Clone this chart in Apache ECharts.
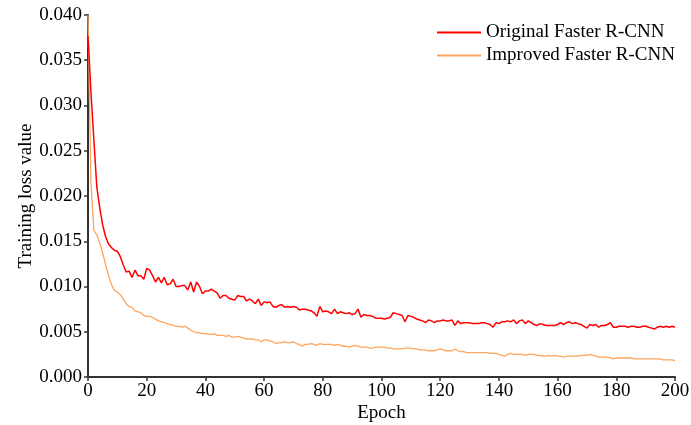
<!DOCTYPE html>
<html>
<head>
<meta charset="utf-8">
<script src="https://cdn.jsdelivr.net/npm/echarts@6/dist/echarts.min.js"></script>
<style>
  html, body { margin: 0; padding: 0; background: #fff; }
  #chart { width: 691px; height: 425px; }
</style>
</head>
<body>
<div id="chart"></div>
<script>
// loss per epoch, epoch 0..200
var original = [
  0.0377, 0.0315, 0.0262, 0.0210, 0.0187, 0.0168, 0.0155, 0.0147, 0.0143, 0.0140,
  0.0139, 0.0133, 0.0124, 0.0116, 0.0117, 0.0110, 0.0118, 0.0112, 0.0112, 0.0108,
  0.0120, 0.0118, 0.0112, 0.0105, 0.0110, 0.0104, 0.0110, 0.0102, 0.0103, 0.0108,
  0.0100, 0.0100, 0.0101, 0.0101, 0.0096, 0.0105, 0.0094, 0.0105, 0.0100, 0.0092,
  0.0095, 0.0095, 0.0097, 0.0095, 0.0093, 0.0087, 0.0090, 0.0090, 0.0087, 0.0086,
  0.0085, 0.0090, 0.0089, 0.0089, 0.0084, 0.0086, 0.0084, 0.0081, 0.0086, 0.0079,
  0.0083, 0.0082, 0.0083, 0.0078, 0.0077, 0.0079, 0.0080, 0.0077, 0.0078, 0.0077,
  0.0078, 0.0077, 0.0074, 0.0075, 0.0075, 0.0074, 0.0073, 0.0071, 0.0067, 0.0078,
  0.0072, 0.0073, 0.0072, 0.0070, 0.0075, 0.0070, 0.0072, 0.0071, 0.0070, 0.0071,
  0.0069, 0.0070, 0.0075, 0.0066, 0.0069, 0.0068, 0.0068, 0.0067, 0.0065, 0.0065,
  0.0065, 0.0064, 0.0065, 0.0066, 0.0071, 0.0070, 0.0069, 0.0068, 0.0061, 0.0068,
  0.0067, 0.0066, 0.0064, 0.0063, 0.0062, 0.0060, 0.0063, 0.0062, 0.0060, 0.0062,
  0.0062, 0.0063, 0.0062, 0.0062, 0.0063, 0.0057, 0.0062, 0.0059, 0.0060, 0.0060,
  0.0060, 0.0059, 0.0059, 0.0059, 0.0060, 0.0060, 0.0059, 0.0058, 0.0055, 0.0060,
  0.0059, 0.0061, 0.0061, 0.0062, 0.0061, 0.0063, 0.0059, 0.0062, 0.0063, 0.0059,
  0.0062, 0.0060, 0.0058, 0.0057, 0.0059, 0.0058, 0.0057, 0.0057, 0.0057, 0.0057,
  0.0058, 0.0060, 0.0058, 0.0060, 0.0061, 0.0059, 0.0060, 0.0059, 0.0058, 0.0056,
  0.0054, 0.0058, 0.0057, 0.0058, 0.0055, 0.0057, 0.0057, 0.0058, 0.0060, 0.0055,
  0.0055, 0.0056, 0.0056, 0.0056, 0.0055, 0.0056, 0.0056, 0.0055, 0.0055, 0.0056,
  0.0056, 0.0055, 0.0054, 0.0053, 0.0055, 0.0056, 0.0055, 0.0056, 0.0055, 0.0056,
  0.0055
];
var improved = [
  0.0400, 0.0215, 0.0162, 0.0157, 0.0148, 0.0137, 0.0124, 0.0112, 0.0102, 0.0096,
  0.0094, 0.0091, 0.0086, 0.0081, 0.0078, 0.0077, 0.0073, 0.0072, 0.0071, 0.0068,
  0.0067, 0.0067, 0.0066, 0.0064, 0.0062, 0.0061, 0.0060, 0.0059, 0.0058, 0.0057,
  0.0056, 0.0056, 0.0055, 0.0056, 0.0054, 0.0052, 0.0050, 0.0049, 0.0049, 0.0048,
  0.0048, 0.0047, 0.0047, 0.0048, 0.0046, 0.0046, 0.0046, 0.0045, 0.0046, 0.0044,
  0.0044, 0.0045, 0.0044, 0.0043, 0.0042, 0.0042, 0.0042, 0.0041, 0.0041, 0.0039,
  0.0041, 0.0041, 0.0040, 0.0039, 0.0037, 0.0038, 0.0038, 0.0039, 0.0038, 0.0038,
  0.0039, 0.0037, 0.0036, 0.0034, 0.0036, 0.0036, 0.0037, 0.0036, 0.0035, 0.0037,
  0.0036, 0.0036, 0.0036, 0.0036, 0.0035, 0.0036, 0.0035, 0.0034, 0.0034, 0.0033,
  0.0034, 0.0035, 0.0034, 0.0033, 0.0033, 0.0033, 0.0032, 0.0032, 0.0033, 0.0033,
  0.0033, 0.0033, 0.0032, 0.0032, 0.0031, 0.0031, 0.0031, 0.0031, 0.0032, 0.0032,
  0.0032, 0.0031, 0.0031, 0.0030, 0.0030, 0.0030, 0.0029, 0.0029, 0.0029, 0.0030,
  0.0031, 0.0030, 0.0029, 0.0029, 0.0029, 0.0031, 0.0029, 0.0028, 0.0028, 0.0027,
  0.0027, 0.0027, 0.0027, 0.0027, 0.0027, 0.0027, 0.0027, 0.0026, 0.0026, 0.0026,
  0.0025, 0.0024, 0.0023, 0.0025, 0.0026, 0.0025, 0.0025, 0.0025, 0.0025, 0.0024,
  0.0025, 0.0025, 0.0025, 0.0024, 0.0024, 0.0023, 0.0023, 0.0024, 0.0023, 0.0024,
  0.0023, 0.0023, 0.0022, 0.0023, 0.0023, 0.0023, 0.0023, 0.0023, 0.0024, 0.0024,
  0.0024, 0.0025, 0.0024, 0.0023, 0.0022, 0.0022, 0.0022, 0.0022, 0.0021, 0.0020,
  0.0021, 0.0021, 0.0021, 0.0021, 0.0021, 0.0021, 0.0020, 0.0020, 0.0020, 0.0020,
  0.0020, 0.0020, 0.0020, 0.0020, 0.0020, 0.0020, 0.0019, 0.0019, 0.0019, 0.0019,
  0.0018
];
var seriesNames = ['Original Faster R-CNN', 'Improved Faster R-CNN'];
var colors = ['#ff0000', '#fca660'];

function toPairs(arr) {
    var out = [];
    for (var i = 0; i < arr.length; i++) {
        out.push([i, arr[i]]);
    }
    return out;
}

var font = '"Liberation Serif", "Times New Roman", serif';
var axisColor = '#333333';
var fs = 19;

var myChart = echarts.init(document.getElementById('chart'));
var option = {
    backgroundColor: '#fff',
    animation: false,
    textStyle: { fontFamily: font },
    legend: {
        orient: 'vertical',
        left: 437,
        top: 23,
        padding: 0,
        icon: 'rect',
        itemWidth: 44,
        itemHeight: 2,
        itemGap: 4,
        textStyle: { fontFamily: font, fontSize: fs, color: '#000' },
        data: seriesNames
    },
    grid: {
        left: 88,
        right: 16,
        top: 15,
        bottom: 48,
        outerBoundsMode: 'none'
    },
    xAxis: {
        type: 'value',
        min: 0,
        max: 200,
        interval: 20,
        name: 'Epoch',
        nameLocation: 'middle',
        nameGap: 27,
        nameMoveOverlap: false,
        nameTextStyle: { fontFamily: font, fontSize: fs, color: '#000' },
        axisLine: { onZero: false, lineStyle: { color: axisColor, width: 2 } },
        axisTick: { inside: false, length: 4, lineStyle: { color: axisColor, width: 1.5 } },
        axisLabel: { margin: 5, fontFamily: font, fontSize: fs, color: '#000' },
        splitLine: { show: false }
    },
    yAxis: {
        type: 'value',
        min: 0,
        max: 0.04,
        interval: 0.005,
        name: 'Training loss value',
        nameLocation: 'middle',
        nameGap: 52,
        nameMoveOverlap: false,
        nameTextStyle: { fontFamily: font, fontSize: fs, color: '#000' },
        axisLine: { show: true, lineStyle: { color: axisColor, width: 2 } },
        axisTick: { show: true, inside: false, length: 4, lineStyle: { color: axisColor, width: 1.5 } },
        axisLabel: {
            margin: 6,
            fontFamily: font,
            fontSize: fs,
            color: '#000',
            formatter: function (value) {
                return value.toFixed(3);
            }
        },
        splitLine: { show: false }
    },
    series: [{
        name: seriesNames[0],
        type: 'line',
        symbol: 'none',
        data: toPairs(original),
        lineStyle: { color: colors[0], width: 1.5 },
        itemStyle: { color: colors[0] },
        z: 3
    }, {
        name: seriesNames[1],
        type: 'line',
        symbol: 'none',
        data: toPairs(improved),
        lineStyle: { color: colors[1], width: 1.3 },
        itemStyle: { color: colors[1] },
        z: 2
    }]
};
myChart.setOption(option);
window.onresize = myChart.resize;
</script>
</body>
</html>
